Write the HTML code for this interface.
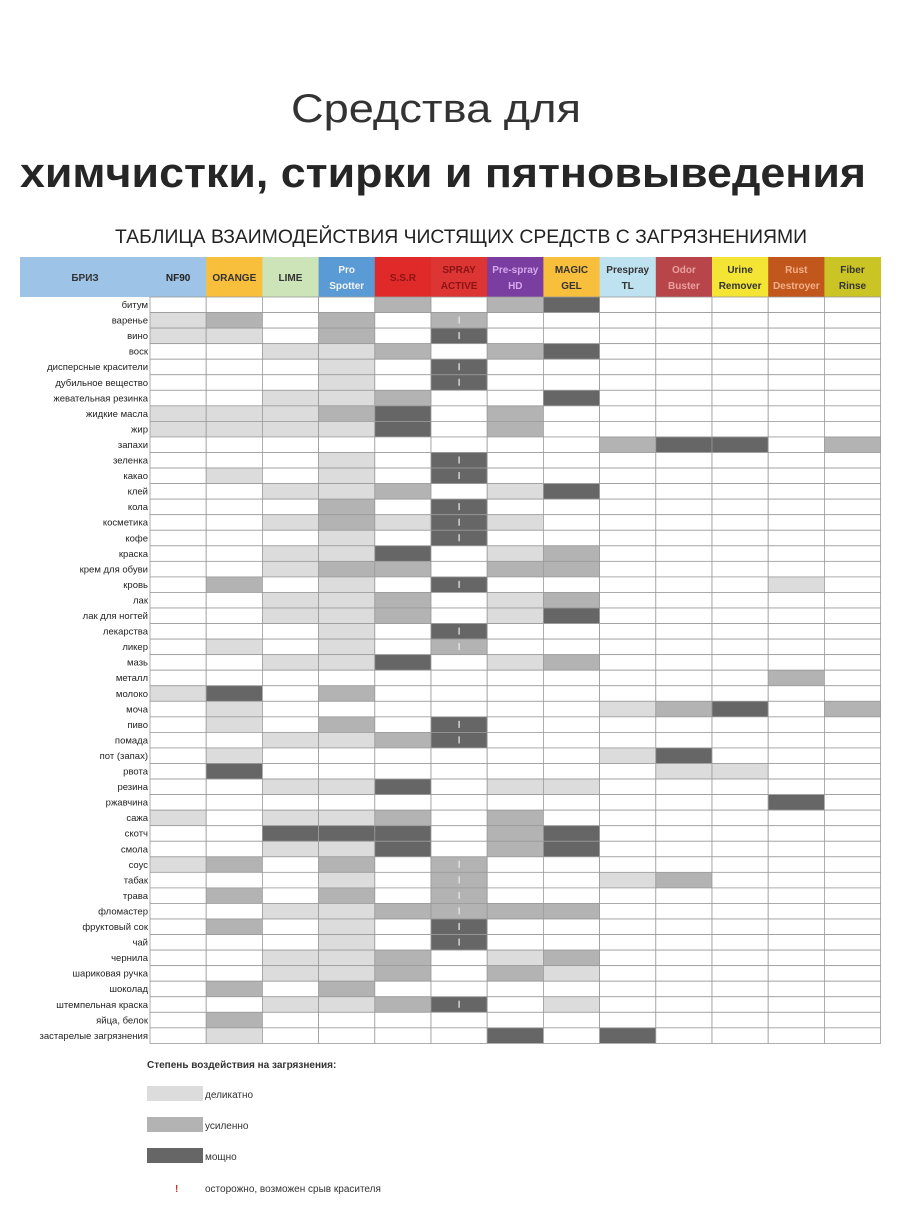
<!DOCTYPE html>
<html><head><meta charset="utf-8"><style>
html,body{margin:0;padding:0;background:#fff;}
svg{display:block;font-family:"Liberation Sans",sans-serif;}
</style></head><body>
<svg id="s" xmlns="http://www.w3.org/2000/svg" width="904" height="1231" viewBox="0 0 904 1231">
<rect width="904" height="1231" fill="#fff"/>
<text x="436" y="122" text-anchor="middle" font-size="40" fill="#333" textLength="290" lengthAdjust="spacingAndGlyphs">Средства для</text>
<text x="443" y="187" text-anchor="middle" font-size="42" font-weight="bold" fill="#262626" textLength="846" lengthAdjust="spacingAndGlyphs">химчистки, стирки и пятновыведения</text>
<text x="461" y="243" text-anchor="middle" font-size="19" fill="#222" textLength="692" lengthAdjust="spacingAndGlyphs">ТАБЛИЦА ВЗАИМОДЕЙСТВИЯ ЧИСТЯЩИХ СРЕДСТВ С ЗАГРЯЗНЕНИЯМИ</text>
<g id="t"></g>
<text x="147" y="1068" font-size="10" font-weight="bold" fill="#333">Степень воздействия на загрязнения:</text>
<rect x="147" y="1086" width="56" height="15" fill="#dcdcdc"/>
<text x="205" y="1098" font-size="10" fill="#333">деликатно</text>
<rect x="147" y="1117" width="56" height="15" fill="#b3b3b3"/>
<text x="205" y="1129" font-size="10" fill="#333">усиленно</text>
<rect x="147" y="1148" width="56" height="15" fill="#666"/>
<text x="205" y="1160" font-size="10" fill="#333">мощно</text>
<text x="175" y="1192" font-size="10" fill="#c0302a" font-weight="bold">!</text>
<text x="205" y="1192" font-size="10" fill="#333">осторожно, возможен срыв красителя</text>
</svg>
<script>
var g=document.getElementById('t'),NS='http://www.w3.org/2000/svg';
function el(n,a,txt){var e=document.createElementNS(NS,n);for(var k in a)e.setAttribute(k,a[k]);if(txt!=null)e.textContent=txt;g.appendChild(e);return e;}
var x0=150,cw=56.2,hy=257,hh=40,ry=297,rh=15.55;
var hdr=[["NF90","#9dc3e6","#222"],["ORANGE","#f8bf3c","#333"],["LIME","#cde3b8","#333"],["Pro|Spotter","#5b9bd5","#f4f4f4"],["S.S.R","#e02a2a","#8a1515"],["SPRAY|ACTIVE","#dd3434","#8a1515"],["Pre-spray|HD","#7a3da0","#d6a8ee"],["MAGIC|GEL","#f8bf3c","#333"],["Prespray|TL","#bfe2f0","#333"],["Odor|Buster","#b8454a","#eaa0a0"],["Urine|Remover","#f4e535","#333"],["Rust|Destroyer","#c2571e","#f3b08a"],["Fiber|Rinse","#cbc425","#333"]];
el('rect',{x:20,y:hy,width:130,height:hh,fill:'#9dc3e6'});
el('text',{x:85,y:hy+24,'font-size':10,'font-weight':'bold','text-anchor':'middle',fill:'#333'},'БРИЗ');
hdr.forEach(function(h,i){var x=x0+i*cw;el('rect',{x:x,y:hy,width:cw+0.5,height:hh,fill:h[1]});
var p=h[0].split('|');if(p.length==1)el('text',{x:x+cw/2,y:hy+24,'font-size':10,'font-weight':'bold','text-anchor':'middle',fill:h[2]},p[0]);
else{el('text',{x:x+cw/2,y:hy+16,'font-size':10,'font-weight':'bold','text-anchor':'middle',fill:h[2]},p[0]);el('text',{x:x+cw/2,y:hy+32,'font-size':10,'font-weight':'bold','text-anchor':'middle',fill:h[2]},p[1]);}});
var rows=[["битум","0000202300000"],["варенье","1202020000000"],["вино","1102030000000"],["воск","0011202300000"],["дисперсные красители","0001030000000"],["дубильное вещество","0001030000000"],["жевательная резинка","0011200300000"],["жидкие масла","1112302000000"],["жир","1111302000000"],["запахи","0000000023302"],["зеленка","0001030000000"],["какао","0101030000000"],["клей","0011201300000"],["кола","0002030000000"],["косметика","0012131000000"],["кофе","0001030000000"],["краска","0011301200000"],["крем для обуви","0012202200000"],["кровь","0201030000010"],["лак","0011201200000"],["лак для ногтей","0011201300000"],["лекарства","0001030000000"],["ликер","0101020000000"],["мазь","0011301200000"],["металл","0000000000020"],["молоко","1302000000000"],["моча","0100000012302"],["пиво","0102030000000"],["помада","0011230000000"],["пот (запах)","0100000013000"],["рвота","0300000001100"],["резина","0011301100000"],["ржавчина","0000000000030"],["сажа","1011202000000"],["скотч","0033302300000"],["смола","0011302300000"],["соус","1202020000000"],["табак","0001020012000"],["трава","0202020000000"],["фломастер","0011222200000"],["фруктовый сок","0201030000000"],["чай","0001030000000"],["чернила","0011201200000"],["шариковая ручка","0011202100000"],["шоколад","0202000000000"],["штемпельная краска","0011230100000"],["яйца, белок","0200000000000"],["застарелые загрязнения","0100003030000"]];
var col=['#fff','#dcdcdc','#b3b3b3','#666'];
rows.forEach(function(r,j){var y=ry+j*rh;
el('text',{x:148,y:y+11,'font-size':9.5,'text-anchor':'end',fill:'#222'},r[0]);
for(var i=0;i<13;i++){var c=+r[1][i];var x=x0+i*cw;
el('rect',{x:x,y:y,width:cw,height:rh,fill:col[c],stroke:'#9a9a9a','stroke-width':0.8});
if(i==5&&c>0)el('rect',{x:x+cw/2-0.6,y:y+4,width:1.2,height:7,fill:'#eee'});}});
</script>
</body></html>
